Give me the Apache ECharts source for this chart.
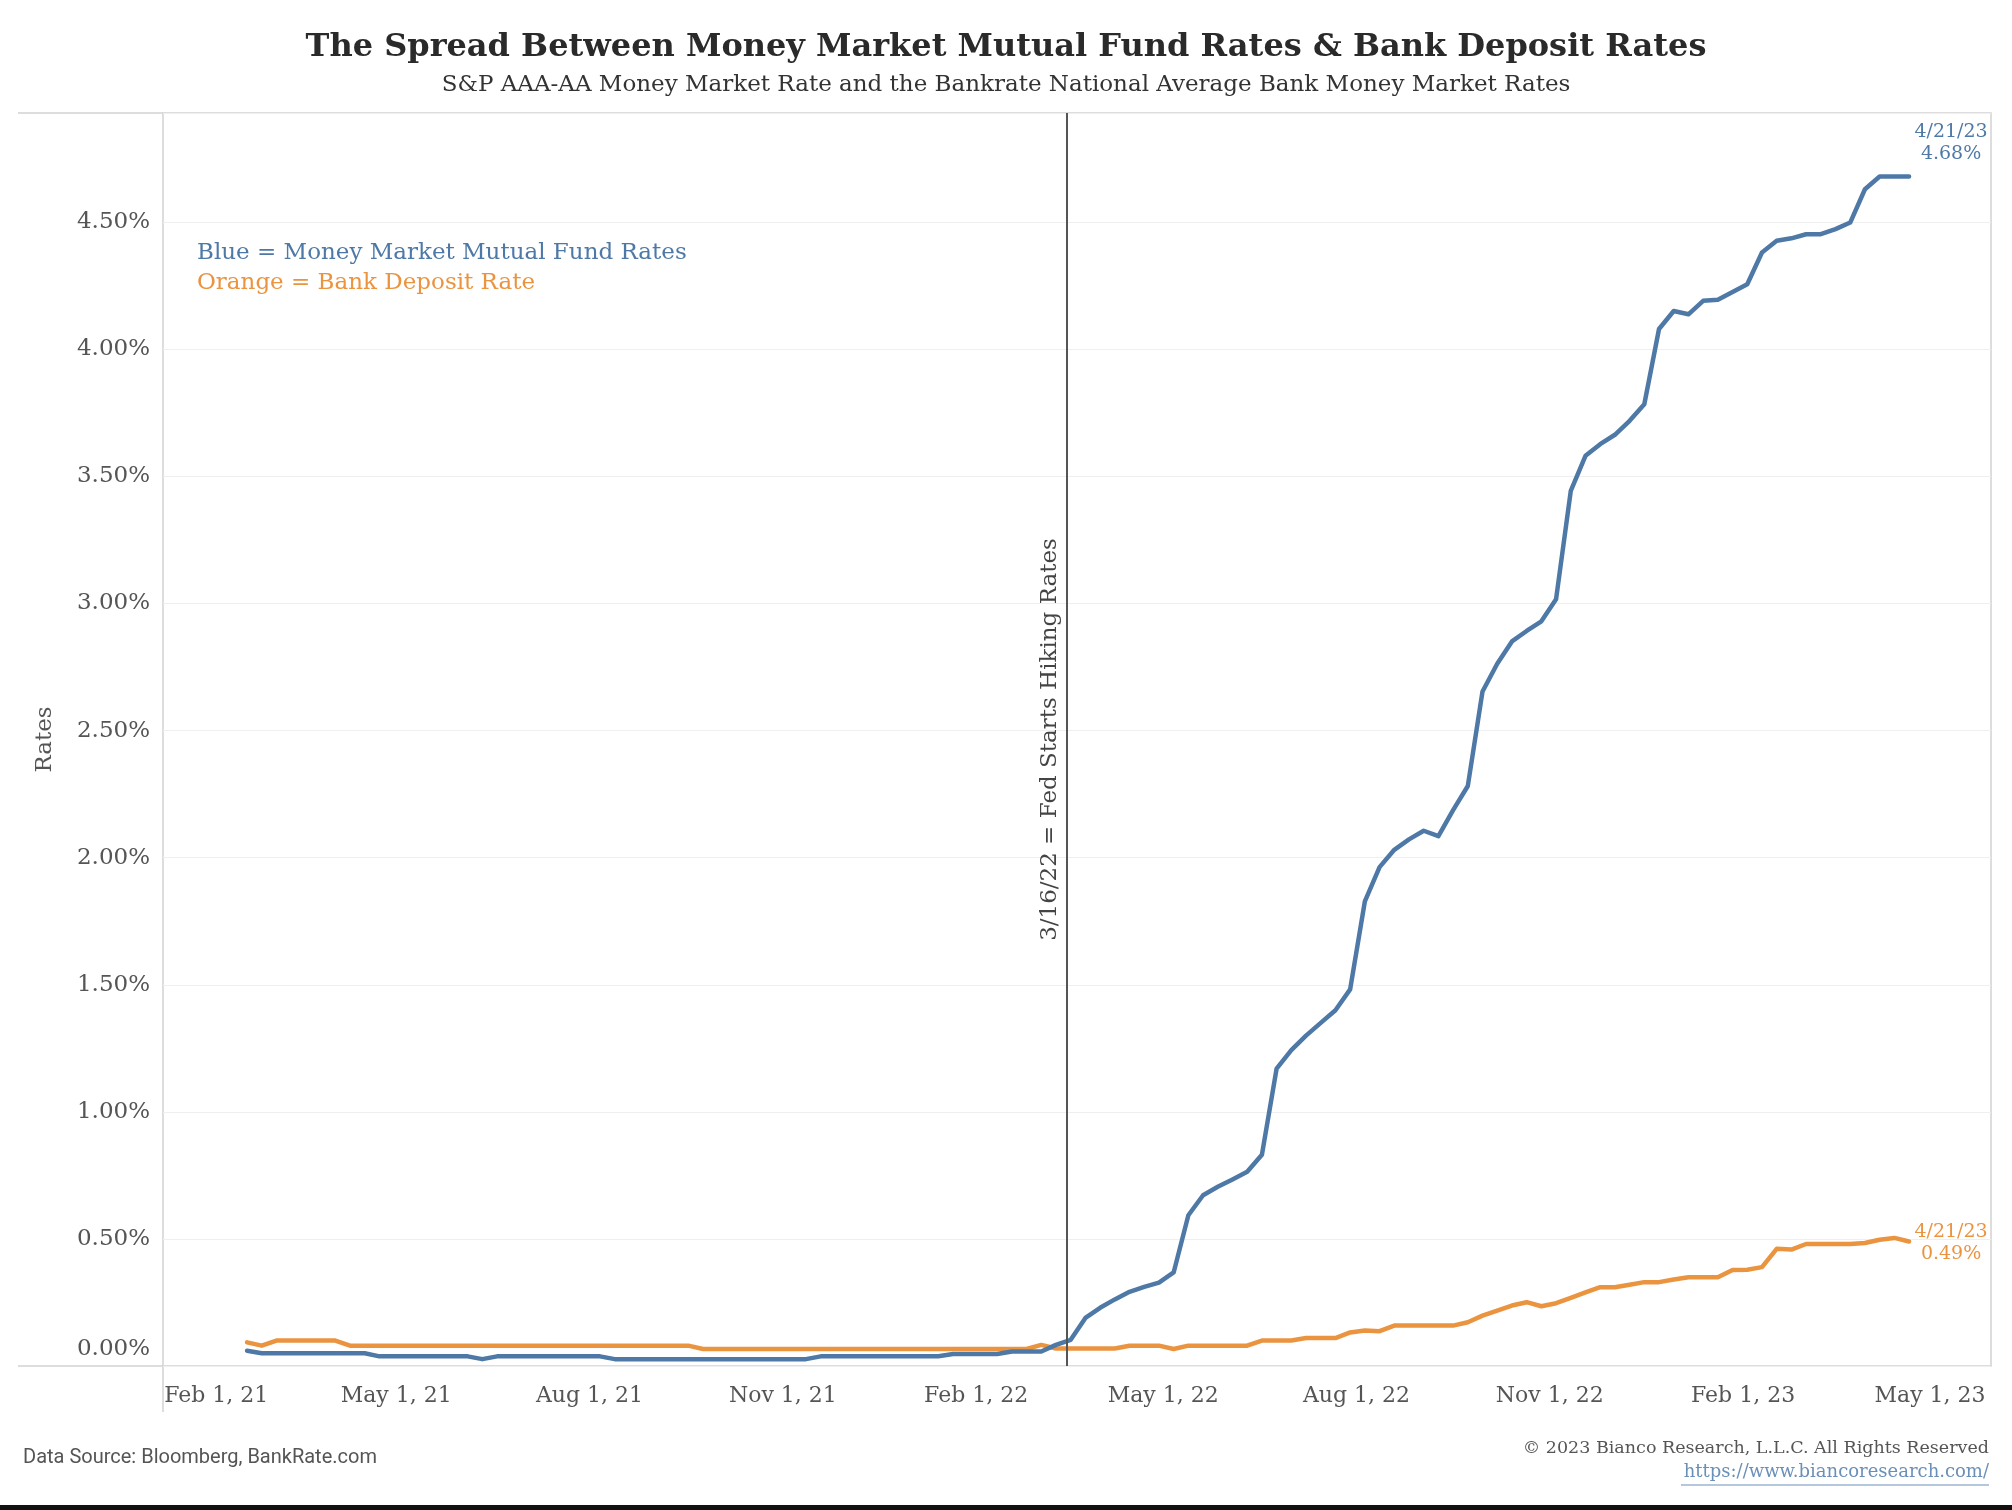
<!DOCTYPE html>
<html><head><meta charset="utf-8">
<script src="https://cdn.jsdelivr.net/npm/echarts@6/dist/echarts.min.js"></script>
<style>html,body{margin:0;padding:0;background:#fff}#c{width:2012px;height:1510px}</style>
</head><body><div id="c"></div>
<script>
// ---- data ----
const dates = [
'2021-02-19','2021-02-26','2021-03-05','2021-03-12','2021-03-19','2021-03-26','2021-04-02','2021-04-09','2021-04-16','2021-04-23',
'2021-04-30','2021-05-07','2021-05-14','2021-05-21','2021-05-28','2021-06-04','2021-06-11','2021-06-18','2021-06-25','2021-07-02',
'2021-07-09','2021-07-16','2021-07-23','2021-07-30','2021-08-06','2021-08-13','2021-08-20','2021-08-27','2021-09-03','2021-09-10',
'2021-09-17','2021-09-24','2021-10-01','2021-10-08','2021-10-15','2021-10-22','2021-10-29','2021-11-05','2021-11-12','2021-11-19',
'2021-11-26','2021-12-03','2021-12-10','2021-12-17','2021-12-24','2021-12-31','2022-01-07','2022-01-14','2022-01-21','2022-01-28',
'2022-02-04','2022-02-11','2022-02-18','2022-02-25','2022-03-04','2022-03-11','2022-03-18','2022-03-25','2022-04-01','2022-04-08',
'2022-04-15','2022-04-22','2022-04-29','2022-05-06','2022-05-13','2022-05-20','2022-05-27','2022-06-03','2022-06-10','2022-06-17',
'2022-06-24','2022-07-01','2022-07-08','2022-07-15','2022-07-22','2022-07-29','2022-08-05','2022-08-12','2022-08-19','2022-08-26',
'2022-09-02','2022-09-09','2022-09-16','2022-09-23','2022-09-30','2022-10-07','2022-10-14','2022-10-21','2022-10-28','2022-11-04',
'2022-11-11','2022-11-18','2022-11-25','2022-12-02','2022-12-09','2022-12-16','2022-12-23','2022-12-30','2023-01-06','2023-01-13',
'2023-01-20','2023-01-27','2023-02-03','2023-02-10','2023-02-17','2023-02-24','2023-03-03','2023-03-10','2023-03-17','2023-03-24',
'2023-03-31','2023-04-07','2023-04-14','2023-04-21'
];
const moneyMarketFundRate = [
0.060,0.050,0.050,0.050,0.050,0.050,0.050,0.050,0.050,0.038,
0.038,0.038,0.038,0.038,0.038,0.038,0.027,0.038,0.038,0.038,
0.038,0.038,0.038,0.038,0.038,0.027,0.027,0.027,0.027,0.027,
0.027,0.027,0.027,0.027,0.027,0.027,0.027,0.027,0.027,0.038,
0.038,0.038,0.038,0.038,0.038,0.038,0.038,0.038,0.047,0.047,
0.047,0.047,0.057,0.057,0.057,0.083,0.103,0.189,0.229,0.262,
0.292,0.311,0.328,0.368,0.593,0.672,0.705,0.734,0.764,0.831,
1.170,1.243,1.300,1.350,1.400,1.482,1.828,1.963,2.031,2.072,
2.106,2.085,2.187,2.282,2.654,2.763,2.851,2.892,2.930,3.017,
3.443,3.581,3.627,3.664,3.719,3.784,4.080,4.151,4.138,4.191,
4.195,4.226,4.256,4.381,4.427,4.437,4.453,4.453,4.473,4.499,
4.630,4.680,4.680,4.680
];
const bankDepositRate = [
0.093,0.080,0.100,0.100,0.100,0.100,0.100,0.080,0.080,0.080,
0.080,0.080,0.080,0.080,0.080,0.080,0.080,0.080,0.080,0.080,
0.080,0.080,0.080,0.080,0.080,0.080,0.080,0.080,0.080,0.080,
0.080,0.067,0.067,0.067,0.067,0.067,0.067,0.067,0.067,0.067,
0.067,0.067,0.067,0.067,0.067,0.067,0.067,0.067,0.067,0.067,
0.067,0.067,0.067,0.067,0.083,0.069,0.069,0.069,0.069,0.069,
0.080,0.080,0.080,0.067,0.080,0.080,0.080,0.080,0.080,0.100,
0.100,0.100,0.110,0.110,0.110,0.132,0.140,0.137,0.159,0.159,
0.159,0.159,0.159,0.172,0.198,0.218,0.238,0.251,0.235,0.247,
0.268,0.290,0.310,0.310,0.320,0.330,0.330,0.340,0.349,0.349,
0.349,0.378,0.379,0.389,0.461,0.458,0.480,0.480,0.480,0.480,
0.484,0.497,0.504,0.490
];
const xTickDates = ['2021-02-01','2021-05-01','2021-08-01','2021-11-01','2022-02-01','2022-05-01','2022-08-01','2022-11-01','2023-02-01','2023-05-01'];
const xRange = ['2021-01-10','2023-05-30'];
const yRange = [0, 4.93];
const yStep = 0.5;
const fedDate = '2022-03-16';
const fedLabel = '3/16/22 = Fed Starts Hiking Rates';
const seriesNames = ['Money Market Mutual Fund Rates', 'Bank Deposit Rate'];
const legendLines = ['Blue = Money Market Mutual Fund Rates', 'Orange = Bank Deposit Rate'];
const titleText = 'The Spread Between Money Market Mutual Fund Rates & Bank Deposit Rates';
const subtitleText = 'S&P AAA-AA Money Market Rate and the Bankrate National Average Bank Money Market Rates';
const sourceText = 'Data Source: Bloomberg, BankRate.com';
const copyrightText = '\u00A9 2023 Bianco Research, L.L.C. All Rights Reserved';
const urlText = 'https://www.biancoresearch.com/';

// ---- helpers ----
const MONTHS = ['Jan','Feb','Mar','Apr','May','Jun','Jul','Aug','Sep','Oct','Nov','Dec'];
function parseDate(s){ const p = s.split('-').map(Number); return new Date(p[0], p[1]-1, p[2]).getTime(); }
function shortDate(s){ const p = s.split('-').map(Number); return p[1] + '/' + p[2] + '/' + String(p[0]).slice(2); }

const BLUE = '#4E79A7', ORANGE = '#EA9440';
const SERIF = '"DejaVu Serif", serif';
const last = dates.length - 1;
const xTickValues = xTickDates.map(parseDate);

const chart = echarts.init(document.getElementById('c'), null, {renderer: 'canvas'});

function endPoint(values, color, offY){
  return {
    symbol: 'circle', symbolSize: 0, silent: true,
    data: [{ coord: [parseDate(dates[last]), values[last]] }],
    label: {
      show: true, position: 'inside', offset: [42, offY],
      formatter: shortDate(dates[last]) + '\n' + values[last].toFixed(2) + '%',
      align: 'center', fontFamily: SERIF, fontSize: 19, lineHeight: 22, color: color
    }
  };
}

chart.setOption({
  animation: false,
  backgroundColor: '#ffffff',
  title: [
    { text: titleText, left: 'center', top: 32, padding: 0,
      textStyle: { fontFamily: SERIF, fontWeight: 'bold', fontSize: 32, color: '#2a2a2a' } },
    { text: subtitleText, left: 'center', top: 74, padding: 0,
      textStyle: { fontFamily: SERIF, fontWeight: 'normal', fontSize: 23, color: '#333' } }
  ],
  grid: { left: 163, right: 21, top: 113, bottom: 144, show: true, borderColor: '#d2d2d2', borderWidth: 1.5, containLabel: false },
  xAxis: {
    type: 'value', min: parseDate(xRange[0]), max: parseDate(xRange[1]),
    axisLine: { show: false }, axisTick: { show: false }, splitLine: { show: false },
    axisLabel: {
      customValues: xTickValues,
      margin: 19, fontFamily: SERIF, fontSize: 22, color: '#555',
      formatter: function (v) {
        const d = new Date(v);
        const t = MONTHS[d.getMonth()] + ' ' + d.getDate() + ', ' + String(d.getFullYear()).slice(2);
        return Math.abs(v - xTickValues[0]) < 1000 ? '{a|' + t + '}' : t;
      },
      rich: { a: { fontFamily: SERIF, fontSize: 22, color: '#555', padding: [0, 0, 0, 14] } }
    }
  },
  yAxis: {
    type: 'value', min: yRange[0], max: yRange[1], interval: yStep,
    name: 'Rates', nameLocation: 'middle', nameGap: 106, nameRotate: 90,
    nameTextStyle: { fontFamily: SERIF, fontSize: 23, color: '#555' },
    axisLine: { show: false }, axisTick: { show: false },
    splitLine: { show: true, lineStyle: { color: '#efefef', width: 1 } },
    axisLabel: {
      margin: 13, fontFamily: SERIF, fontSize: 23, color: '#555', showMaxLabel: false,
      formatter: function (v) {
        if (Math.abs(v / yStep - Math.round(v / yStep)) > 1e-6) return '';
        const t = v.toFixed(2) + '%';
        return v === 0 ? '{z|' + t + '}' : t;
      },
      rich: { z: { fontFamily: SERIF, fontSize: 23, color: '#555', padding: [0, 0, 34, 0] } }
    }
  },
  series: [
    {
      name: seriesNames[0], type: 'line', z: 4,
      data: dates.map((d, i) => [parseDate(d), moneyMarketFundRate[i]]),
      showSymbol: false, symbol: 'none',
      lineStyle: { color: BLUE, width: 4.5, cap: 'round', join: 'round' },
      itemStyle: { color: BLUE },
      markLine: {
        silent: true, symbol: 'none',
        lineStyle: { color: '#555', width: 2, type: 'solid' },
        label: { show: true, position: 'insideMiddleTop', formatter: fedLabel, distance: 5,
                 fontFamily: SERIF, fontSize: 23, color: '#444' },
        data: [{ xAxis: parseDate(fedDate) }]
      },
      markPoint: endPoint(moneyMarketFundRate, BLUE, -33)
    },
    {
      name: seriesNames[1], type: 'line', z: 3,
      data: dates.map((d, i) => [parseDate(d), bankDepositRate[i]]),
      showSymbol: false, symbol: 'none',
      lineStyle: { color: ORANGE, width: 4.5, cap: 'round', join: 'round' },
      itemStyle: { color: ORANGE },
      markPoint: endPoint(bankDepositRate, ORANGE, 2)
    }
  ],
  graphic: [
    { type: 'line', shape: { x1: 18, y1: 113, x2: 163, y2: 113 }, style: { stroke: '#d2d2d2', lineWidth: 1.5 }, silent: true },
    { type: 'line', shape: { x1: 18, y1: 1366, x2: 163, y2: 1366 }, style: { stroke: '#d2d2d2', lineWidth: 1.5 }, silent: true },
    { type: 'line', shape: { x1: 163, y1: 1366, x2: 163, y2: 1412 }, style: { stroke: '#d2d2d2', lineWidth: 1.5 }, silent: true },
    { type: 'text', left: 197, top: 242, style: { text: legendLines[0], fill: BLUE, font: '23px ' + SERIF } },
    { type: 'text', left: 197, top: 272, style: { text: legendLines[1], fill: ORANGE, font: '23px ' + SERIF } },
    { type: 'text', left: 23, top: 1448, style: { text: sourceText, fill: '#555', font: '20px Roboto, sans-serif' } },
    { type: 'text', right: 23, top: 1439, style: { text: copyrightText, fill: '#555', font: '17.5px ' + SERIF } },
    { type: 'text', right: 23, top: 1463, style: { text: urlText, fill: '#6a8fb8', font: '18px ' + SERIF } },
    { type: 'line', shape: { x1: 1681, y1: 1485, x2: 1989, y2: 1485 }, style: { stroke: '#6a8fb8', lineWidth: 1 }, silent: true },
    { type: 'rect', shape: { x: 0, y: 1505, width: 2012, height: 5 }, style: { fill: '#111' }, silent: true }
  ]
});
</script>
</body></html>
